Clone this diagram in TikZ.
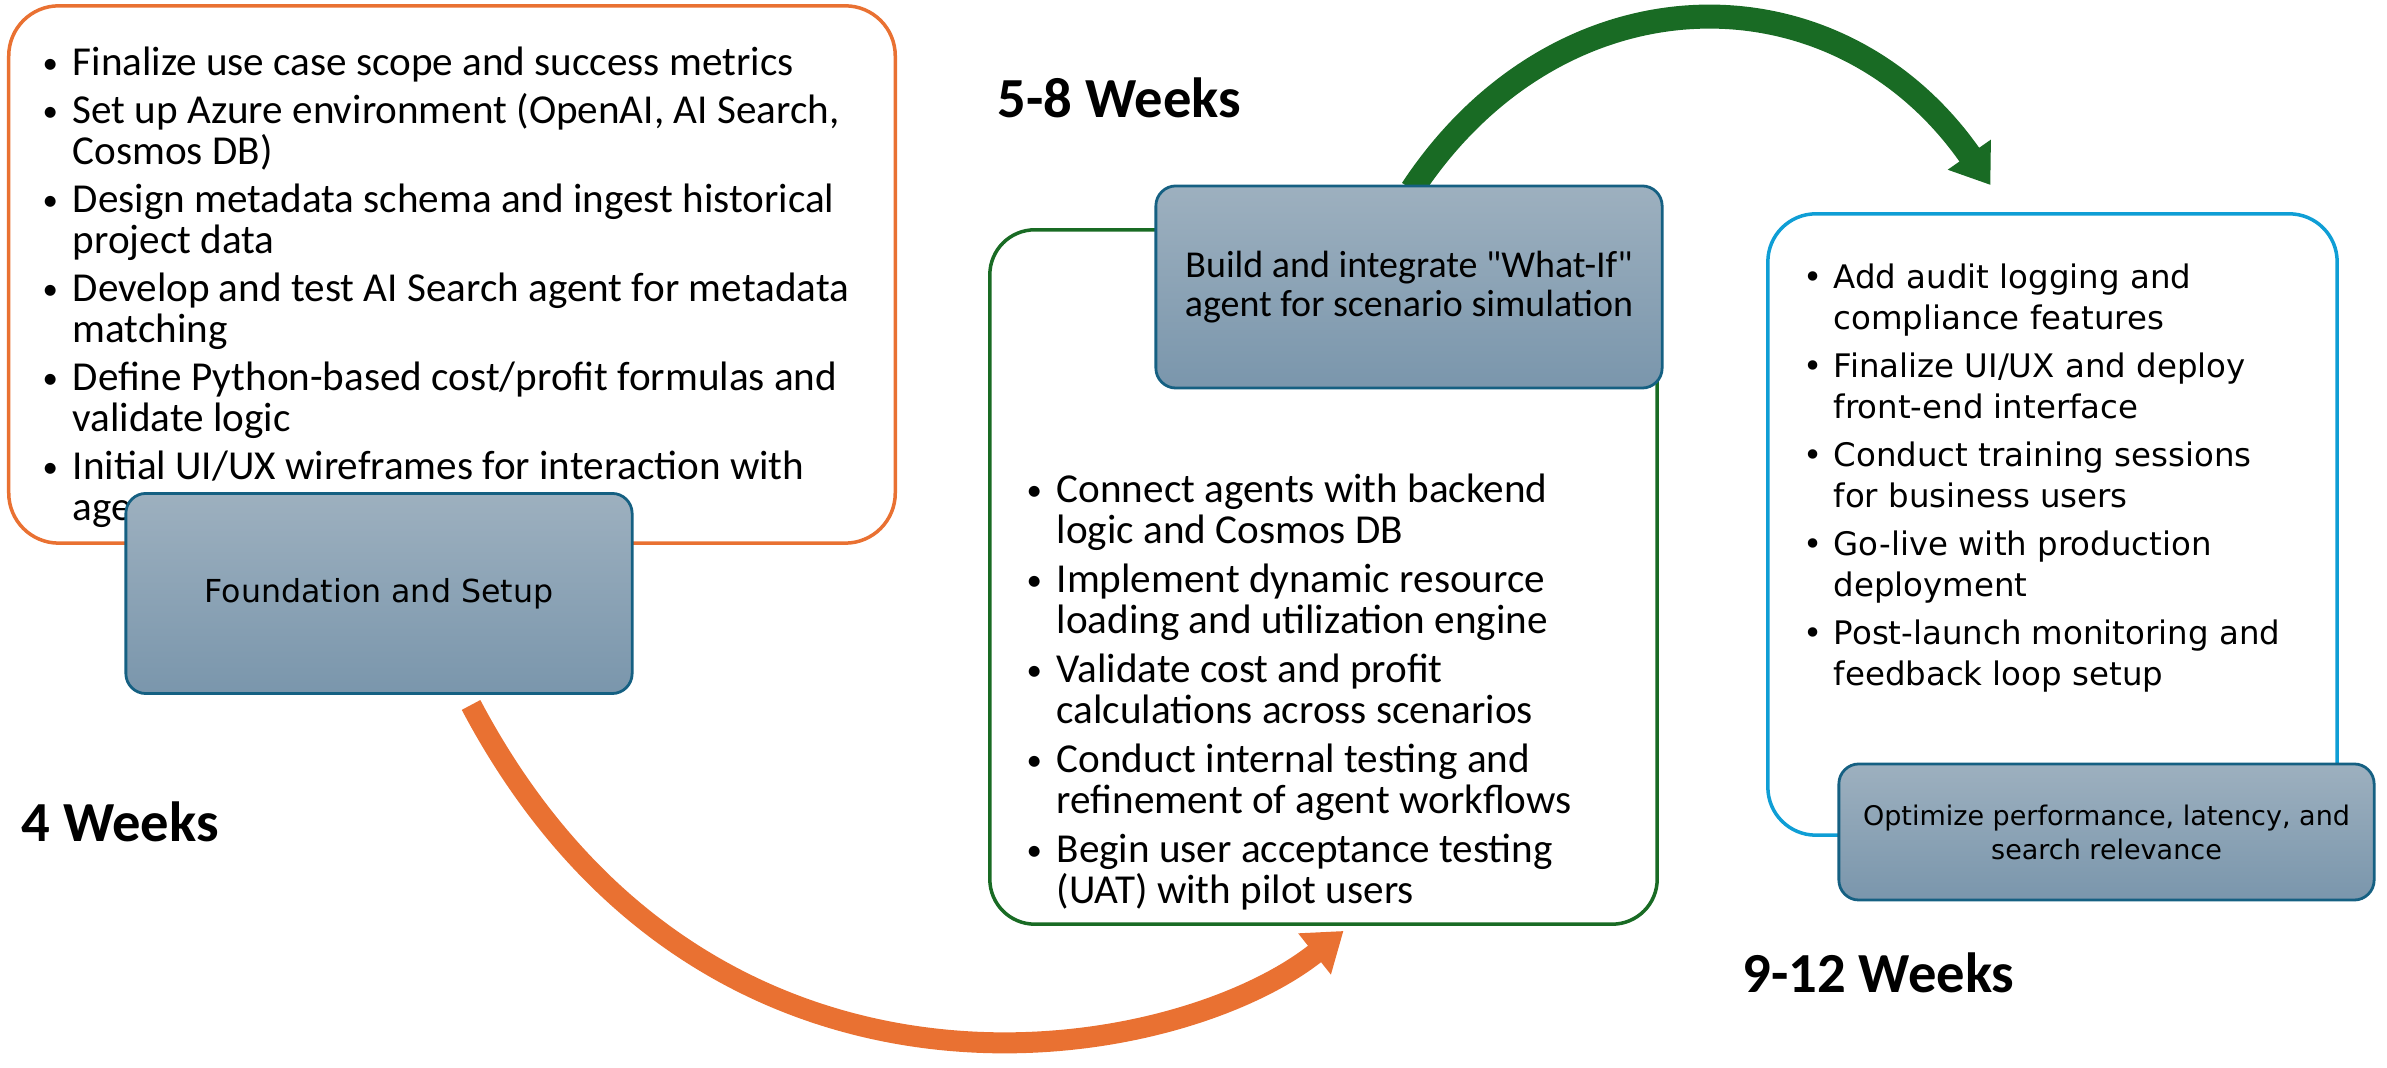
\documentclass[tikz,border=0pt]{standalone}
\usepackage{fontspec}
\setmainfont{Carlito}
\newfontfamily\dejavu{DejaVu Sans}
\usetikzlibrary{arrows.meta,backgrounds}

\definecolor{phaseorange}{HTML}{E97132}
\definecolor{phasegreen}{HTML}{196B24}
\definecolor{phaseblue}{HTML}{0F9ED5}
\definecolor{stageedge}{HTML}{156082}
\definecolor{stagetop}{HTML}{9DB0BF}
\definecolor{stagebot}{HTML}{7A96AC}

\newcommand{\bul}{\makebox[0.3cm][l]{\raisebox{0.04em}{\scalebox{0.75}{\textbullet}}}}
\newcommand{\dbul}{\makebox[0.3cm][l]{\textbullet}}
\newcommand{\cont}{\hspace*{0.3cm}}
\newcommand{\dq}{{\addfontfeatures{Ligatures=TeXOff}"}}

\begin{document}
\begin{tikzpicture}[x=0.01cm,y=-0.01cm,
    phase/.style={draw,line width=0.035cm,rounded corners=0.5cm},
    stage/.style={draw=stageedge,line width=0.028cm,rounded corners=0.2cm,
      top color=stagetop,bottom color=stagebot,align=center,inner sep=0pt},
    bullets/.style={anchor=north west,inner sep=0pt,align=left},
    weeks/.style={anchor=base west,inner sep=0pt,font=\bfseries\fontsize{16.1pt}{19pt}\selectfont},
    flow/.style={line width=#1,-{Triangle[length=0.37cm,width=0.5cm]}}]
  \useasboundingbox (0,0) rectangle (2387,1068);

  % phase 1
  \node[phase,draw=phaseorange,minimum width=8.86cm,minimum height=5.37cm] (setup) at (452,274.5) {};
  \node[bullets,font=\fontsize{11.7pt}{0.41cm}\selectfont] (setuplist) at (42,46)
    {\bul Finalize use case scope and success metrics\\[0.07cm]
     \bul Set up Azure environment (OpenAI, AI Search,\\
     \cont Cosmos DB)\\[0.07cm]
     \bul Design metadata schema and ingest historical\\
     \cont project data\\[0.07cm]
     \bul Develop and test AI Search agent for metadata\\
     \cont matching\\[0.07cm]
     \bul Define Python-based cost/profit formulas and\\
     \cont validate logic\\[0.07cm]
     \bul Initial UI/UX wireframes for interaction with\\
     \cont agents};
  \node[stage,minimum width=5.06cm,minimum height=2.0cm,font=\dejavu\fontsize{9pt}{11pt}\selectfont]
    (found) at (379,593.5) {Foundation and Setup};
  \node[weeks] (wk1) at (21,842) {4 Weeks};

  % phase 2
  \node[phase,draw=phasegreen,rounded corners=0.45cm,minimum width=6.67cm,minimum height=6.94cm] (mid) at (1323.5,577) {};
  \node[bullets,font=\fontsize{11.7pt}{0.41cm}\selectfont] (midlist) at (1026,473)
    {\bul Connect agents with backend\\
     \cont logic and Cosmos DB\\[0.08cm]
     \bul Implement dynamic resource\\
     \cont loading and utilization engine\\[0.08cm]
     \bul Validate cost and profit\\
     \cont calculations across scenarios\\[0.08cm]
     \bul Conduct internal testing and\\
     \cont refinement of agent workflows\\[0.08cm]
     \bul Begin user acceptance testing\\
     \cont (UAT) with pilot users};
  \node[stage,minimum width=5.06cm,minimum height=2.02cm,font=\fontsize{10.8pt}{0.383cm}\selectfont]
    (whatif) at (1409,287) {Build and integrate \dq What-If\dq\\agent for scenario simulation};
  \node[weeks] (wk2) at (997,118) {5-8 Weeks};

  % phase 3
  \node[phase,draw=phaseblue,rounded corners=0.48cm,minimum width=5.69cm,minimum height=6.21cm] (last) at (2052.5,524.5) {};
  \node[bullets,font=\dejavu\fontsize{9.22pt}{0.41cm}\selectfont] (lastlist) at (1803,263)
    {\dbul Add audit logging and\\
     \cont compliance features\\[0.07cm]
     \dbul Finalize UI/UX and deploy\\
     \cont front-end interface\\[0.07cm]
     \dbul Conduct training sessions\\
     \cont for business users\\[0.07cm]
     \dbul Go-live with production\\
     \cont deployment\\[0.07cm]
     \dbul Post-launch monitoring and\\
     \cont feedback loop setup};
  \node[stage,minimum width=5.35cm,minimum height=1.36cm,font=\dejavu\fontsize{7.68pt}{0.34cm}\selectfont]
    (opt) at (2106.5,832) {Optimize performance, latency, and\\search relevance};
  \node[weeks] (wk3) at (1742,993) {9-12 Weeks};

  % arrows between phases
  \begin{scope}[on background layer]
    \draw[flow=0.21cm,phaseorange] ([xshift=0.92cm,yshift=-0.1cm]found.south)
      .. controls +(235,445) and +(-170,135) .. ([xshift=0.2cm,yshift=-0.05cm]mid.south);
    \draw[flow=0.24cm,phasegreen] ([xshift=0.03cm,yshift=-0.05cm]whatif.north)
      .. controls +(148,-224) and +(-154,-221) .. ([xshift=-0.62cm,yshift=0.27cm]last.north);
  \end{scope}
\end{tikzpicture}
\end{document}
